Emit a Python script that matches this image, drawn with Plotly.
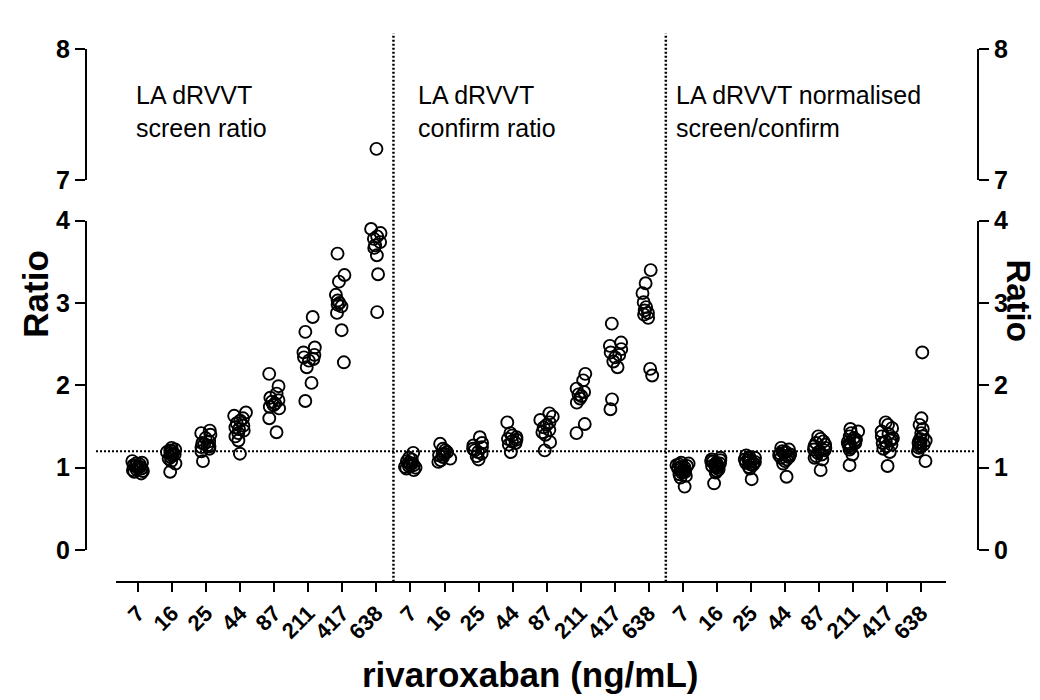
import plotly.graph_objects as go

W, H = 1040, 700

conc = ["7", "16", "25", "44", "87", "211", "417", "638"]
panel_titles = ["LA dRVVT<br>screen ratio", "LA dRVVT<br>confirm ratio",
                "LA dRVVT normalised<br>screen/confirm"]

screen = [
    [1.08, 1.06, 1.05, 1.04, 1.03, 1.02, 1.01, 1.00, 0.99, 0.98, 0.97, 0.96, 0.95, 0.93],
    [1.24, 1.22, 1.21, 1.20, 1.19, 1.18, 1.17, 1.16, 1.15, 1.13, 1.11, 1.08, 1.05, 0.95],
    [1.45, 1.42, 1.40, 1.36, 1.32, 1.30, 1.29, 1.27, 1.26, 1.25, 1.23, 1.20, 1.08],
    [1.67, 1.63, 1.60, 1.57, 1.54, 1.51, 1.49, 1.47, 1.45, 1.42, 1.38, 1.33, 1.17],
    [2.14, 1.99, 1.90, 1.85, 1.82, 1.80, 1.78, 1.76, 1.74, 1.72, 1.60, 1.43],
    [2.83, 2.65, 2.46, 2.40, 2.37, 2.34, 2.32, 2.30, 2.22, 2.03, 1.81],
    [3.60, 3.34, 3.26, 3.10, 3.03, 3.00, 2.98, 2.96, 2.88, 2.67, 2.28],
    [3.90, 3.85, 3.81, 3.78, 3.74, 3.70, 3.67, 3.58, 3.35, 2.89],
]
screen_high = {"638": [7.24]}

confirm = [
    [1.18, 1.12, 1.10, 1.08, 1.06, 1.05, 1.04, 1.03, 1.02, 1.01, 1.00, 0.99, 0.97],
    [1.29, 1.23, 1.21, 1.19, 1.17, 1.16, 1.15, 1.13, 1.11, 1.09, 1.07],
    [1.37, 1.30, 1.27, 1.25, 1.23, 1.21, 1.19, 1.17, 1.14, 1.10],
    [1.55, 1.42, 1.39, 1.37, 1.35, 1.34, 1.32, 1.30, 1.28, 1.19],
    [1.66, 1.62, 1.58, 1.55, 1.52, 1.49, 1.46, 1.43, 1.40, 1.31, 1.21],
    [2.14, 2.06, 1.96, 1.92, 1.89, 1.87, 1.84, 1.79, 1.53, 1.42],
    [2.75, 2.52, 2.48, 2.44, 2.40, 2.37, 2.34, 2.29, 2.22, 1.83, 1.71],
    [3.40, 3.24, 3.12, 3.01, 2.95, 2.91, 2.88, 2.86, 2.82, 2.20, 2.12],
]

normalised = [
    [1.06, 1.05, 1.04, 1.03, 1.02, 1.01, 1.00, 0.99, 0.98, 0.97, 0.96, 0.95, 0.94, 0.92, 0.90, 0.88, 0.77],
    [1.12, 1.10, 1.09, 1.08, 1.07, 1.06, 1.05, 1.04, 1.03, 1.02, 1.01, 1.00, 0.98, 0.96, 0.94, 0.81],
    [1.15, 1.13, 1.12, 1.11, 1.10, 1.09, 1.08, 1.07, 1.06, 1.05, 1.04, 1.03, 1.01, 0.99, 0.86],
    [1.24, 1.22, 1.20, 1.19, 1.18, 1.17, 1.16, 1.15, 1.14, 1.13, 1.12, 1.10, 1.08, 1.05, 0.89],
    [1.38, 1.35, 1.32, 1.30, 1.28, 1.26, 1.24, 1.22, 1.21, 1.20, 1.18, 1.16, 1.14, 1.12, 1.10, 0.97],
    [1.47, 1.44, 1.42, 1.38, 1.36, 1.34, 1.32, 1.31, 1.30, 1.29, 1.28, 1.26, 1.24, 1.22, 1.16, 1.03],
    [1.55, 1.52, 1.48, 1.44, 1.41, 1.38, 1.36, 1.34, 1.33, 1.32, 1.30, 1.28, 1.26, 1.23, 1.19, 1.02],
    [2.40, 1.60, 1.52, 1.47, 1.42, 1.38, 1.35, 1.33, 1.31, 1.30, 1.29, 1.28, 1.26, 1.24, 1.20, 1.08],
]

cutoff = 1.2
panels = [screen, confirm, normalised]

FONT = "Liberation Sans, Arial, sans-serif"
marker = dict(symbol="circle-open", size=12, color="black",
              line=dict(color="black", width=1.9))

fig = go.Figure()
ncat = len(conc)
for p, data in enumerate(panels):
    xs, ys = [], []
    for i, vals in enumerate(data):
        xs += [p * ncat + i] * len(vals)
        ys += vals
    fig.add_trace(go.Box(
        x=xs, y=ys, orientation="v", boxpoints="all", jitter=0.55, pointpos=0,
        width=0.7, marker=marker, line=dict(width=0, color="rgba(0,0,0,0)"),
        fillcolor="rgba(0,0,0,0)", showlegend=False, hoverinfo="y",
        xaxis="x", yaxis="y"))

hx, hy = [], []
for c, vals in screen_high.items():
    hx += [conc.index(c)] * len(vals)
    hy += vals
fig.add_trace(go.Scatter(x=hx, y=hy, mode="markers", marker=marker,
                         showlegend=False, xaxis="x", yaxis="y2"))
# right-hand axes
fig.add_trace(go.Scatter(x=[None], y=[None], showlegend=False, xaxis="x", yaxis="y3"))
fig.add_trace(go.Scatter(x=[None], y=[None], showlegend=False, xaxis="x", yaxis="y4"))

def px_x(v):
    return v / W

def px_y(v):
    return 1 - v / H

yt_font = dict(family=FONT, size=25, color="black", weight="bold")
common_y = dict(showgrid=False, zeroline=False, showline=True, linewidth=2,
                linecolor="black", ticks="outside", ticklen=10, tickwidth=2,
                tickcolor="black", tickfont=yt_font, anchor="free", fixedrange=True)

tickvals = list(range(3 * ncat))
ticktext = conc * 3

fig.update_layout(
    width=W, height=H,
    margin=dict(l=0, r=0, t=0, b=0),
    paper_bgcolor="white", plot_bgcolor="white",
    showlegend=False,
    xaxis=dict(domain=[px_x(108), px_x(938)], range=[-0.65, 23.73],
               anchor="free", position=px_y(583),
               showgrid=False, zeroline=False, showline=True, linewidth=2,
               linecolor="black", ticks="outside", ticklen=9, tickwidth=2,
               tickcolor="black", tickvals=tickvals, ticktext=ticktext,
               tickangle=-45,
               tickfont=dict(family=FONT, size=22, color="black", weight="bold"),
               fixedrange=True),
    yaxis=dict(domain=[px_y(550), px_y(207)], range=[0, 4], tickvals=[0, 1, 2, 3, 4],
               position=px_x(78), **common_y),
    yaxis2=dict(domain=[px_y(165), px_y(28)], range=[7, 8], tickvals=[7, 8],
                position=px_x(78), **common_y),
    yaxis3=dict(overlaying="y", side="right", range=[0, 4], tickvals=[0, 1, 2, 3, 4],
                position=px_x(970), **common_y),
    yaxis4=dict(overlaying="y2", side="right", range=[7, 8], tickvals=[7, 8],
                position=px_x(970), **common_y),
)

shapes = []
for sep in (ncat - 0.5, 2 * ncat - 0.5):
    shapes.append(dict(type="line", xref="x", yref="paper", x0=sep, x1=sep,
                       y0=px_y(583), y1=px_y(12),
                       line=dict(color="black", width=2.5, dash="2px,2px")))
shapes.append(dict(type="line", xref="paper", yref="y", x0=px_x(88), x1=px_x(968),
                   y0=cutoff, y1=cutoff,
                   line=dict(color="black", width=2, dash="2px,2px")))
fig.update_layout(shapes=shapes)

ann = []
title_font = dict(family=FONT, size=35, color="black", weight="bold")
ann.append(dict(text="Ratio", xref="paper", yref="paper", x=px_x(28), y=px_y(283),
                textangle=-90, showarrow=False, font=title_font,
                xanchor="center", yanchor="middle"))
ann.append(dict(text="Ratio", xref="paper", yref="paper", x=px_x(1011), y=px_y(290),
                textangle=90, showarrow=False,
                font=dict(family=FONT, size=33, color="black", weight="bold"),
                xanchor="center", yanchor="middle"))
ann.append(dict(text="rivaroxaban (ng/mL)", xref="paper", yref="paper",
                x=px_x(522), y=px_y(680), showarrow=False, font=title_font,
                xanchor="center", yanchor="middle"))
for xpos, t in zip((126, 408, 666), panel_titles):
    ann.append(dict(text=t, xref="paper", yref="paper", x=px_x(xpos), y=px_y(59),
                    showarrow=False, align="left", xanchor="left", yanchor="top",
                    font=dict(family=FONT, size=25, color="black")))
fig.update_layout(annotations=ann)

fig.write_html("out.html")
